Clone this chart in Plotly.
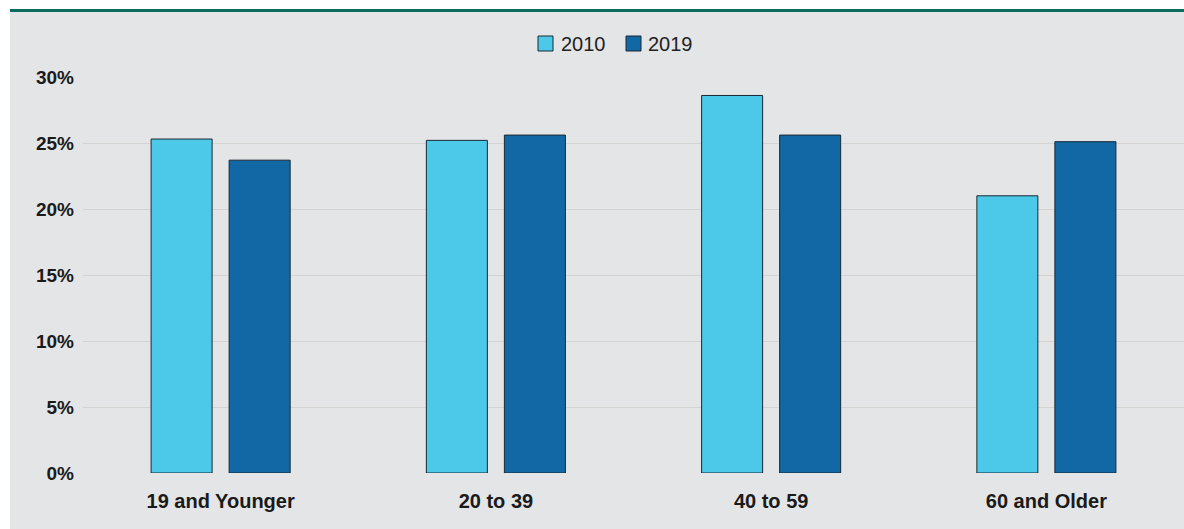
import plotly.graph_objects as go

categories = ["19 and Younger", "20 to 39", "40 to 59", "60 and Older"]
values_2010 = [25.3, 25.2, 28.6, 21.0]
values_2019 = [23.7, 25.6, 25.6, 25.1]
series_names = ["2010", "2019"]
series_colors = ["#4cc8e9", "#1267a5"]
tick_vals = [0, 5, 10, 15, 20, 25, 30]
tick_text = ["0%", "5%", "10%", "15%", "20%", "25%", "30%"]

W, H = 1184, 529
ML, MR, MT, MB = 83, 0, 77, 56
PW, PH = W - ML - MR, H - MT - MB

def px_x(p):
    return (p - ML) / PW

def px_y(p):
    return (H - MB - p) / PH

FONT = "Liberation Sans, Arial, sans-serif"

fig = go.Figure()
for name, vals, col in zip(series_names, [values_2010, values_2019], series_colors):
    fig.add_trace(go.Bar(name=name, x=categories, y=vals, showlegend=False,
                         marker=dict(color=col, line=dict(color="#1a2833", width=1))))

shapes = [
    dict(type="rect", xref="paper", yref="paper", layer="below",
         x0=px_x(10), x1=px_x(1184), y0=px_y(529), y1=px_y(12),
         fillcolor="#e4e5e7", line=dict(width=0)),
    dict(type="line", xref="paper", yref="paper",
         x0=px_x(10), x1=px_x(1184), y0=px_y(10.5), y1=px_y(10.5),
         line=dict(color="#0b6b5f", width=3)),
]
annotations = []
# custom legend
legend_items = [(538, 559), (626, 646)]
for (sx, tx), name, col in zip(legend_items, series_names, series_colors):
    shapes.append(dict(type="rect", xref="paper", yref="paper",
                       x0=px_x(sx), x1=px_x(sx + 15), y0=px_y(51), y1=px_y(36),
                       fillcolor=col, line=dict(color="#1a2833", width=1)))
    annotations.append(dict(xref="paper", yref="paper", x=px_x(tx), y=px_y(44),
                            xanchor="left", yanchor="middle", showarrow=False,
                            text=name, font=dict(size=20, family=FONT, color="#222222")))

fig.update_layout(
    width=W, height=H,
    margin=dict(l=ML, r=MR, t=MT, b=MB),
    paper_bgcolor="white",
    plot_bgcolor="#e4e5e7",
    barmode="group",
    bargap=0.433,
    bargroupgap=0.218,
    font=dict(family=FONT, color="#1a1a1a"),
    shapes=shapes,
    annotations=annotations,
)
fig.update_yaxes(range=[0, 30], tickvals=tick_vals, ticktext=tick_text,
                 showgrid=True, gridcolor="#d5d3d1", gridwidth=1.2, zeroline=False,
                 showline=False, ticks="", ticklabelstandoff=8,
                 tickfont=dict(size=19, family=FONT, weight="bold", color="#1a1a1a"))
fig.update_xaxes(showgrid=False, showline=False, ticks="", ticklabelstandoff=14,
                 tickfont=dict(size=20, family=FONT, weight="bold", color="#1a1a1a"))

fig.write_html("out.html")
